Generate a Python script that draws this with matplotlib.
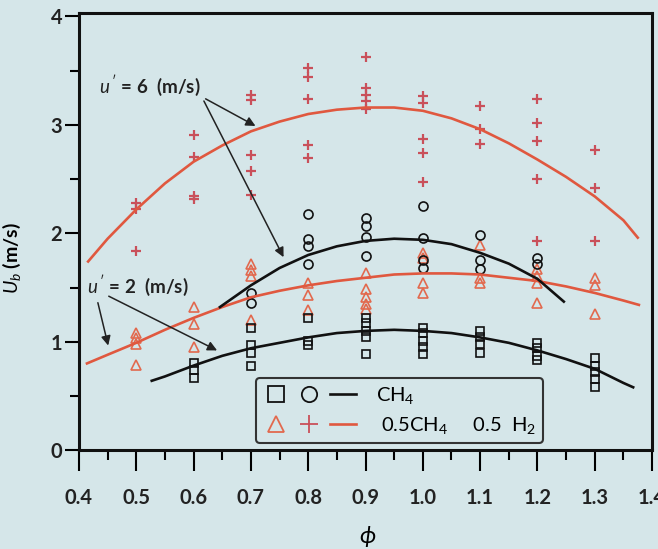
import matplotlib
matplotlib.use("Agg")
import matplotlib.pyplot as plt
import numpy as np
from matplotlib.legend_handler import HandlerTuple

# --- data ---
# u' = 6 m/s, 0.5CH4 + 0.5H2 (plus markers)
plus_phi = [0.5, 0.5, 0.5, 0.6, 0.6, 0.6, 0.6, 0.7, 0.7, 0.7, 0.7, 0.7,
            0.8, 0.8, 0.8, 0.8, 0.8, 0.9, 0.9, 0.9, 0.9, 0.9,
            1.0, 1.0, 1.0, 1.0, 1.0, 1.1, 1.1, 1.1,
            1.2, 1.2, 1.2, 1.2, 1.2, 1.3, 1.3, 1.3]
plus_ub = [2.28, 2.22, 1.84, 2.91, 2.70, 2.34, 2.32, 3.28, 3.23, 2.72, 2.57, 2.35,
           3.52, 3.44, 3.24, 2.81, 2.69, 3.63, 3.34, 3.28, 3.22, 3.15,
           3.27, 3.20, 2.87, 2.74, 2.47, 3.17, 2.96, 2.82,
           3.24, 3.02, 2.85, 2.50, 1.93, 2.77, 2.42, 1.93]

# u' = 6 m/s, CH4 (circles)
circ_phi = [0.7, 0.7, 0.8, 0.8, 0.8, 0.8, 0.9, 0.9, 0.9, 0.9,
            1.0, 1.0, 1.0, 1.0, 1.1, 1.1, 1.1, 1.2, 1.2]
circ_ub = [1.45, 1.36, 2.18, 1.95, 1.88, 1.72, 2.14, 2.07, 1.97, 1.79,
           2.25, 1.96, 1.75, 1.68, 1.98, 1.75, 1.67, 1.77, 1.72]

# u' = 2 m/s, 0.5CH4 + 0.5H2 (triangles)
tri_phi = [0.5, 0.5, 0.5, 0.5, 0.6, 0.6, 0.6, 0.7, 0.7, 0.7, 0.7,
           0.8, 0.8, 0.8, 0.9, 0.9, 0.9, 0.9, 0.9,
           1.0, 1.0, 1.0, 1.0, 1.1, 1.1, 1.1,
           1.2, 1.2, 1.2, 1.2, 1.3, 1.3, 1.3]
tri_ub = [1.08, 1.03, 0.98, 0.79, 1.32, 1.16, 0.95, 1.72, 1.66, 1.61, 1.20,
          1.54, 1.43, 1.29, 1.63, 1.49, 1.41, 1.35, 1.30,
          1.82, 1.77, 1.54, 1.45, 1.89, 1.59, 1.54,
          1.67, 1.61, 1.54, 1.36, 1.59, 1.52, 1.26]

# u' = 2 m/s, CH4 (squares)
sq_phi = [0.6, 0.6, 0.6, 0.7, 0.7, 0.7, 0.7, 0.8, 0.8, 0.8,
          0.9, 0.9, 0.9, 0.9, 0.9, 1.0, 1.0, 1.0, 1.0, 1.0,
          1.1, 1.1, 1.1, 1.1, 1.2, 1.2, 1.2, 1.2,
          1.3, 1.3, 1.3, 1.3, 1.3]
sq_ub = [0.80, 0.74, 0.67, 1.13, 0.97, 0.90, 0.78, 1.22, 1.01, 0.97,
         1.22, 1.17, 1.10, 1.04, 0.89, 1.13, 1.08, 1.01, 0.95, 0.89,
         1.10, 1.04, 0.98, 0.90, 0.99, 0.94, 0.87, 0.83,
         0.85, 0.78, 0.72, 0.66, 0.58]

# fitted curves as drawn in the reference
fit_h2_6_phi = [0.416, 0.45, 0.5, 0.55, 0.6, 0.65, 0.7, 0.75, 0.8, 0.85, 0.9,
                0.95, 1.0, 1.05, 1.1, 1.15, 1.2, 1.25, 1.3, 1.35, 1.375]
fit_h2_6_ub = [1.74, 1.95, 2.22, 2.46, 2.66, 2.81, 2.94, 3.03, 3.10, 3.14, 3.16,
               3.16, 3.13, 3.06, 2.96, 2.83, 2.68, 2.52, 2.34, 2.12, 1.96]

fit_ch4_6_phi = [0.646, 0.7, 0.75, 0.8, 0.85, 0.9, 0.95, 1.0, 1.05, 1.1, 1.15, 1.2, 1.246]
fit_ch4_6_ub = [1.32, 1.52, 1.68, 1.80, 1.88, 1.93, 1.95, 1.94, 1.90, 1.82, 1.72, 1.58, 1.37]

fit_h2_2_phi = [0.414, 0.45, 0.5, 0.55, 0.6, 0.65, 0.7, 0.75, 0.8, 0.85, 0.9,
                0.95, 1.0, 1.05, 1.1, 1.15, 1.2, 1.25, 1.3, 1.35, 1.377]
fit_h2_2_ub = [0.80, 0.88, 0.99, 1.11, 1.22, 1.32, 1.41, 1.47, 1.52, 1.56, 1.59,
               1.62, 1.63, 1.63, 1.62, 1.59, 1.56, 1.51, 1.45, 1.38, 1.34]

fit_ch4_2_phi = [0.527, 0.55, 0.6, 0.65, 0.7, 0.75, 0.8, 0.85, 0.9, 0.95,
                 1.0, 1.05, 1.1, 1.15, 1.2, 1.25, 1.3, 1.35, 1.367]
fit_ch4_2_ub = [0.64, 0.68, 0.78, 0.87, 0.94, 0.99, 1.04, 1.08, 1.10, 1.11,
                1.10, 1.08, 1.04, 0.99, 0.92, 0.84, 0.75, 0.62, 0.58]

x_ticks = [0.4, 0.5, 0.6, 0.7, 0.8, 0.9, 1.0, 1.1, 1.2, 1.3, 1.4]
x_ticklabels = ["0.4", "0.5", "0.6", "0.7", "0.8", "0.9", "1.0", "1.1", "1.2", "1.3", "1.4"]
y_ticks = [0, 1, 2, 3, 4]
y_ticklabels = ["0", "1", "2", "3", "4"]
legend_labels = ["CH$_4$", " 0.5CH$_4$     0.5  H$_2$"]

bg = "#d5e6e9"
red_line = "#e0583f"
red_tri = "#e2694e"
red_plus = "#c9505a"
ink = "#111111"

plt.rcParams["font.family"] = ["Lato", "DejaVu Sans"]
plt.rcParams["mathtext.fontset"] = "custom"
plt.rcParams["mathtext.rm"] = "Lato"
plt.rcParams["mathtext.it"] = "Lato:italic"
plt.rcParams["mathtext.bf"] = "Lato:bold"

fig = plt.figure(figsize=(6.58, 5.49), dpi=100, facecolor=bg)
ax = fig.add_axes([0.120, 0.180, 0.871, 0.796], facecolor=bg)

ax.plot(plus_phi, plus_ub, linestyle="none", marker="+", ms=7, mew=1.6, color=red_plus)
ax.plot(tri_phi, tri_ub, linestyle="none", marker="^", ms=7, mew=1.2,
        mfc="none", mec=red_tri)
ax.plot(circ_phi, circ_ub, linestyle="none", marker="o", ms=6.5, mew=1.2,
        mfc="none", mec=ink)
ax.plot(sq_phi, sq_ub, linestyle="none", marker="s", ms=6, mew=1.2,
        mfc="none", mec=ink)

ax.plot(fit_h2_6_phi, fit_h2_6_ub, color=red_line, lw=1.9)
ax.plot(fit_h2_2_phi, fit_h2_2_ub, color=red_line, lw=1.9)
ax.plot(fit_ch4_6_phi, fit_ch4_6_ub, color=ink, lw=1.9)
ax.plot(fit_ch4_2_phi, fit_ch4_2_ub, color=ink, lw=1.9)

# annotations
arrow = dict(arrowstyle="-|>", color="#222222", lw=1.1, mutation_scale=14, shrinkA=0, shrinkB=0)
ax.text(0.435, 3.36, "$u\\,'$ = 6  (m/s)", fontsize=13.5, fontweight="bold",
        va="center", ha="left", color="#222222")
ax.annotate("", xy=(0.708, 2.99), xytext=(0.621, 3.24), arrowprops=arrow)
ax.annotate("", xy=(0.757, 1.78), xytext=(0.618, 3.22), arrowprops=arrow)
ax.text(0.414, 1.52, "$u\\,'$ = 2  (m/s)", fontsize=13.5, fontweight="bold",
        va="center", ha="left", color="#222222")
ax.annotate("", xy=(0.451, 0.965), xytext=(0.433, 1.36), arrowprops=arrow)
ax.annotate("", xy=(0.641, 0.92), xytext=(0.452, 1.42), arrowprops=arrow)

# legend
h_sq, = ax.plot([], [], linestyle="none", marker="s", ms=11, mew=1.3, mfc="none", mec=ink)
h_ci, = ax.plot([], [], linestyle="none", marker="o", ms=11, mew=1.3, mfc="none", mec=ink)
h_l1, = ax.plot([], [], color=ink, lw=1.9)
h_tr, = ax.plot([], [], linestyle="none", marker="^", ms=11, mew=1.3, mfc="none", mec=red_tri)
h_pl, = ax.plot([], [], linestyle="none", marker="+", ms=13, mew=1.3, color=red_plus)
h_l2, = ax.plot([], [], color=red_line, lw=1.9)
leg = ax.legend([(h_sq, h_ci, h_l1), (h_tr, h_pl, h_l2)], legend_labels,
                handler_map={tuple: HandlerTuple(ndivide=None, pad=0.35)},
                handlelength=4.6, handletextpad=1.0, fontsize=14.5,
                loc="lower left", bbox_to_anchor=(0.309, 0.016),
                borderpad=0.35, labelspacing=0.45, borderaxespad=0,
                fancybox=True, framealpha=1, facecolor=bg, edgecolor="#333333")
leg.get_frame().set_linewidth(1.5)

ax.set_xlim(0.4, 1.4)
ax.set_ylim(0, 4.03)
ax.set_xticks(x_ticks)
ax.set_xticklabels(x_ticklabels)
ax.set_xticks(np.arange(0.45, 1.4, 0.1), minor=True)
ax.set_yticks(y_ticks)
ax.set_yticklabels(y_ticklabels)
ax.set_yticks([0.5, 1.5, 2.5, 3.5], minor=True)
ax.tick_params(axis="x", which="major", length=15, width=1.5, pad=12, labelsize=14.5,
               labelcolor="#222222")
ax.tick_params(axis="x", which="minor", length=7.5, width=1.5)
ax.tick_params(axis="y", which="major", length=10, width=1.5, pad=2, labelsize=14.5,
               labelcolor="#222222")
ax.tick_params(axis="y", which="minor", length=6.5, width=1.5)
for sp in ax.spines.values():
    sp.set_linewidth(2.2)
    sp.set_color(ink)

ax.set_xlabel("$\\phi$", fontsize=17)
ax.xaxis.set_label_coords(0.503, -0.17)
ax.set_ylabel("$U_b$ (m/s)", fontsize=14, fontweight="bold")
ax.yaxis.set_label_coords(-0.098, 0.44)

# tick labels are created lazily, so make them bold after a first draw
fig.canvas.draw()
for tick in ax.xaxis.get_major_ticks() + ax.yaxis.get_major_ticks():
    tick.label1.set_fontweight("bold")

fig.savefig("out.png", dpi=100, facecolor=bg)
